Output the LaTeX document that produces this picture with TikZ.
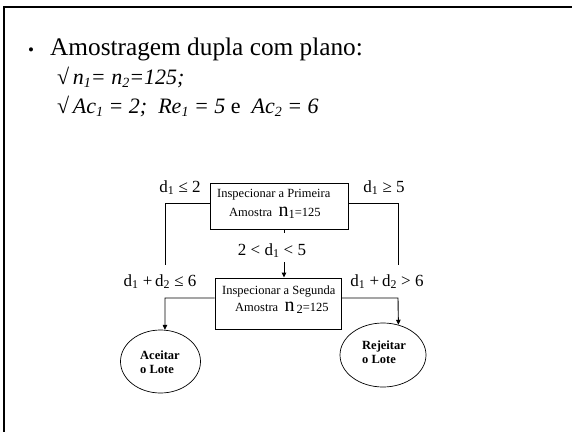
\documentclass[tikz,border=0pt]{standalone}
\usepackage{fontspec}
\setmainfont{Liberation Serif}
\usetikzlibrary{arrows.meta,shapes.geometric}
\newcommand{\isub}[1]{\raisebox{-0.35ex}{\fontsize{14}{16}\selectfont\textit{#1}}}
\begin{document}
\begin{tikzpicture}[x=1pt,y=-1pt,
  conn/.style={line width=0.9pt},
  arr/.style={line width=0.9pt,-{Triangle[length=5pt,width=4.5pt]}},
  procbox/.style={draw,line width=0.9pt,inner sep=0pt},
  boxtxt/.style={font=\fontsize{12.5}{15}\selectfont,anchor=base west,inner sep=0pt},
  cond/.style={font=\fontsize{17}{20}\selectfont,anchor=base,inner sep=0pt},
  endell/.style={draw,ellipse,line width=0.7pt,inner sep=0pt},
  elltxt/.style={font=\fontsize{12.5}{14}\selectfont\bfseries,align=left,anchor=west,inner sep=0pt},
  head/.style={anchor=base west,inner sep=0pt}]
\useasboundingbox (0,0) rectangle (572,431);
% frame
\draw[line width=2pt] (4,432) -- (4,7) -- (573,7);
% heading text
\node[head,font=\fontsize{17}{20}\selectfont] (bul) at (28,55) {•};
\node[head,font=\fontsize{25.3}{30}\selectfont] (title) at (50,55) {Amostragem dupla com plano:};
\node[head,font=\fontsize{22}{26}\selectfont] (l2) at (57,84) {√\,\textit{n}\isub{1}\textit{= n}\isub{2}\textit{=125;}};
\node[head,font=\fontsize{22}{26}\selectfont] (l3) at (57,113) {√\,\textit{Ac}\isub{1} \textit{= 2;\ \ Re}\isub{1} \textit{= 5} e\ \ \textit{Ac}\isub{2} \textit{= 6}};
% boxes
\node[procbox,minimum width=138pt,minimum height=46pt] (box1) at (279,206) {};
\node[boxtxt] (b1a) at (217,197) {Inspecionar a Primeira};
\node[boxtxt] (b1b) at (229,216) {Amostra\ \ {\fontsize{20}{22}\selectfont n}\raisebox{-0.4ex}{1}=125};
\node[procbox,minimum width=126pt,minimum height=51pt] (box2) at (278,303.5) {};
\node[boxtxt] (b2a) at (222,294) {Inspecionar a Segunda};
\node[boxtxt] (b2b) at (235,311) {Amostra\ \ {\fontsize{20}{22}\selectfont n}\raisebox{-0.4ex}{\,2}=125};
% end ellipses
\node[endell,minimum width=80pt,minimum height=63pt] (acc) at (160.5,361.5) {};
\node[elltxt] (acct) at (140,362) {Aceitar\\o Lote};
\node[endell,minimum width=86pt,minimum height=64pt] (rej) at (383,355) {};
\node[elltxt] (rejt) at (362,352) {Rejeitar\\o Lote};
% coordinates
\coordinate (L1) at (165,203);
\coordinate (L1e) at (165,265);
\coordinate (R1) at (398,203);
\coordinate (R1e) at (398,265);
\coordinate (T1) at (284,229);
\coordinate (T1e) at (284,233);
\coordinate (A0) at (284,262);
\coordinate (L2) at (165,298);
\coordinate (R2) at (398,298);
% connectors
\draw[conn] (box1.west |- L1) -- (L1) -- (L1e);
\draw[conn] (box1.east |- R1) -- (R1) -- (R1e);
\draw[conn] (T1) -- (T1e);
\draw[arr] (A0) -- (box2.north -| A0);
\draw[arr] (box2.west |- L2) -- (L2) -- (acc.82);
\draw[arr] (box2.east |- R2) -- (R2) -- (rej.63.4);
% condition labels
\node[cond] (c1) at (180,192) {d\textsubscript{1} ≤ 2};
\node[cond] (c2) at (384,192) {d\textsubscript{1} ≥ 5};
\node[cond] (c3) at (272,255) {2 < d\textsubscript{1} < 5};
\node[cond] (c4) at (160,286) {d\textsubscript{1} +\,d\textsubscript{2} ≤ 6};
\node[cond] (c5) at (387,286) {d\textsubscript{1} +\,d\textsubscript{2} > 6};
\end{tikzpicture}
\end{document}
